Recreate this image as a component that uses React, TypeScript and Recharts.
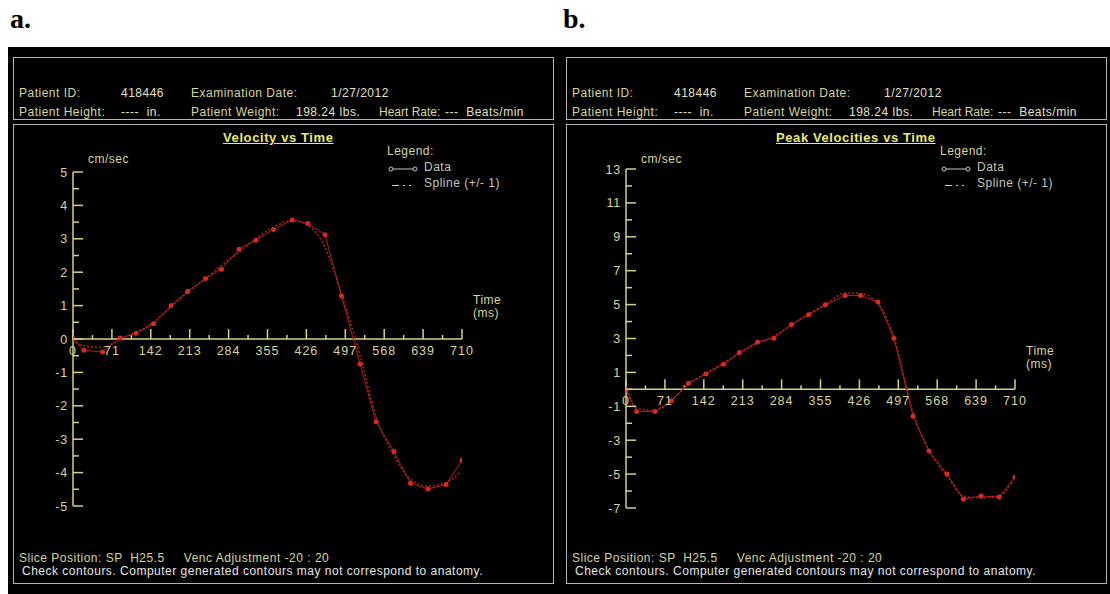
import { Line, LineChart, ReferenceLine, XAxis, YAxis } from "recharts";

// panel a: velocity vs time
const timesA = [0, 20, 54, 86, 115, 147, 179, 209, 242, 271, 303, 334, 366, 400, 429, 460, 490, 524, 553, 586, 616, 648, 681, 710];
const velocityA = [0, -0.34, -0.39, 0.03, 0.17, 0.46, 1.0, 1.42, 1.81, 2.09, 2.69, 2.96, 3.28, 3.56, 3.46, 3.12, 1.29, -0.75, -2.48, -3.37, -4.32, -4.49, -4.36, -3.63];
const splineTimesA = [0, 20, 54, 86, 115, 147, 179, 209, 242, 271, 303, 334, 366, 400, 429, 460, 490, 524, 553, 586, 616, 648, 681, 706];
const splineA = [0, -0.2, -0.25, 0.0, 0.2, 0.5, 0.97, 1.4, 1.8, 2.2, 2.6, 3.0, 3.35, 3.55, 3.4, 2.75, 1.35, -0.5, -2.3, -3.5, -4.2, -4.4, -4.3, -4.0];

// panel b: peak velocities vs time
const timesB = [0, 19.5, 53, 83, 114, 146, 178, 207, 240, 270, 302, 333, 364, 400, 428, 460, 489, 524, 553, 586, 616, 648, 681, 710];
const peakB = [0, -1.3, -1.3, -0.67, 0.36, 0.91, 1.48, 2.17, 2.8, 3.02, 3.83, 4.4, 4.99, 5.54, 5.54, 5.15, 3.02, -1.58, -3.64, -5.0, -6.48, -6.29, -6.35, -5.18];
const splineTimesB = [0, 19.5, 53, 83, 114, 146, 178, 207, 240, 270, 302, 333, 364, 400, 428, 460, 489, 524, 553, 586, 616, 648, 681, 706];
const splineB = [0, -1.1, -1.25, -0.65, 0.3, 0.95, 1.55, 2.15, 2.7, 3.15, 3.8, 4.45, 5.0, 5.68, 5.66, 5.05, 3.1, -1.4, -3.6, -5.1, -6.3, -6.4, -6.3, -5.4];

const xTicks = [0, 35.5, 71, 106.5, 142, 177.5, 213, 248.5, 284, 319.5, 355, 390.5, 426, 461.5, 497, 532.5, 568, 603.5, 639, 674.5, 710];
const xLabels = [0, 71, 142, 213, 284, 355, 426, 497, 568, 639, 710];
const yTicksA = [-5, -4.5, -4, -3.5, -3, -2.5, -2, -1.5, -1, -0.5, 0, 0.5, 1, 1.5, 2, 2.5, 3, 3.5, 4, 4.5, 5];
const yLabelsA = [-5, -4, -3, -2, -1, 0, 1, 2, 3, 4, 5];
const yTicksB = [-7, -6, -5, -4, -3, -2, -1, 0, 1, 2, 3, 4, 5, 6, 7, 8, 9, 10, 11, 12, 13];
const yLabelsB = [-7, -5, -3, -1, 1, 3, 5, 7, 9, 11, 13];

const FONT = "'Liberation Sans', Arial, sans-serif";
const AXIS = "#d2d284";
const LABEL = "#d6d69a";
const VALUE = "#e2e2c8";
const RED = "#b3201a";
const DOT = "#d62a20";
const BOX = "#b4b4b4";

const pts = (ts: number[], vs: number[]) => ts.map((t, i) => ({ t, v: vs[i] }));

function Txt({ x, y, children, color = LABEL, size = 12, bold = false, underline = false, spacing = 0.5 }: any) {
  return (
    <div style={{ position: "absolute", left: x, top: y - 7, lineHeight: "14px", fontSize: size, fontFamily: FONT, color, whiteSpace: "pre", letterSpacing: spacing, fontWeight: bold ? 700 : 400, textDecoration: underline ? "underline" : "none" }}>
      {children}
    </div>
  );
}

function YTick({ x, y, payload, labels }: any) {
  const v = payload.value;
  const major = labels.includes(v);
  return (
    <g>
      <line x1={x + 4} x2={x + 4 + (major ? 10 : 6)} y1={y} y2={y} stroke={AXIS} strokeWidth={1.5} />
      {major && (
        <text x={x - 1} y={y} dy="0.36em" textAnchor="end" fill={LABEL} fontSize={12.5} fontFamily={FONT} letterSpacing={0.8}>{v}</text>
      )}
    </g>
  );
}

type PanelProps = {
  left: number;
  letter: string;
  title: string;
  data: { t: number; v: number }[];
  spline: { t: number; v: number }[];
  yDomain: [number, number];
  yTicks: number[];
  yLabels: number[];
  mTop: number;
  mBottom: number;
  timeY: number;
};

function Panel({ left, letter, title, data, spline, yDomain, yTicks, yLabels, mTop, mBottom, timeY }: PanelProps) {
  const W = 541;
  const H = 460;
  const unit = (yDomain[1] - yDomain[0]) / (H - mTop - mBottom);
  return (
    <>
      <div style={{ position: "absolute", left: left - 3, top: 4, fontFamily: "'Liberation Serif', 'Times New Roman', serif", fontWeight: 700, fontSize: 28, color: "#000", lineHeight: "30px" }}>{letter}</div>
      <div style={{ position: "absolute", left, top: 57, width: W - 2, height: 61, border: `1px solid ${BOX}` }} />
      <Txt x={left + 6} y={93}>Patient ID:</Txt>
      <Txt x={left + 108} y={93} color={VALUE}>418446</Txt>
      <Txt x={left + 178} y={93}>Examination Date:</Txt>
      <Txt x={left + 318} y={93} color={VALUE}>1/27/2012</Txt>
      <Txt x={left + 6} y={112}>Patient Height:</Txt>
      <Txt x={left + 108} y={112} color={VALUE}>----  in.</Txt>
      <Txt x={left + 178} y={112}>Patient Weight:</Txt>
      <Txt x={left + 283} y={112} color={VALUE}>198.24 lbs.</Txt>
      <Txt x={left + 366} y={112} spacing={0}>Heart Rate:</Txt>
      <Txt x={left + 432} y={112} color={VALUE}>---  Beats/min</Txt>

      <div style={{ position: "absolute", left, top: 124, width: W - 2, height: H - 2, border: `1px solid ${BOX}` }} />
      <Txt x={left + 210} y={138} color="#ecec6c" size={13} bold underline spacing={0.6}>{title}</Txt>
      <Txt x={left + 374} y={151}>Legend:</Txt>
      <svg style={{ position: "absolute", left: left + 374, top: 162 }} width={32} height={28}>
        <line x1={4} x2={28} y1={7} y2={7} stroke="#c8c8c8" strokeWidth={1} />
        <circle cx={4} cy={7} r={2} fill="#000" stroke="#c8c8c8" />
        <circle cx={28} cy={7} r={2} fill="#000" stroke="#c8c8c8" />
        <line x1={5} x2={27} y1={23.5} y2={23.5} stroke="#c8c8c8" strokeWidth={1} strokeDasharray="7 4 2 4 2" />
      </svg>
      <Txt x={left + 411} y={167} color="#c4c4c4">Data</Txt>
      <Txt x={left + 411} y={183} color="#c4c4c4">Spline (+/- 1)</Txt>
      <Txt x={left + 75} y={159}>cm/sec</Txt>
      <Txt x={left + 460} y={timeY}>Time</Txt>
      <Txt x={left + 460} y={timeY + 13}>(ms)</Txt>
      <Txt x={left + 6} y={558}>Slice Position: SP  H25.5     Venc Adjustment -20 : 20</Txt>
      <Txt x={left + 9} y={571} color="#e6e6e6">Check contours. Computer generated contours may not correspond to anatomy.</Txt>

      <div style={{ position: "absolute", left, top: 124 }}>
        <LineChart width={W} height={H} margin={{ top: mTop, right: 92, bottom: mBottom, left: 0 }}>
          <XAxis type="number" dataKey="t" domain={[0, 710]} hide allowDataOverflow />
          <YAxis
            type="number"
            domain={yDomain}
            ticks={yTicks}
            interval={0}
            width={60}
            tickSize={0}
            tickMargin={4}
            tickLine={false}
            axisLine={{ stroke: AXIS, strokeWidth: 1.5 }}
            tick={(p: any) => <YTick {...p} labels={yLabels} />}
            allowDataOverflow
          />
          <ReferenceLine segment={[{ x: 0, y: 0 }, { x: 710, y: 0 }]} stroke={AXIS} strokeWidth={1.5} />
          {xTicks.map((t) => {
            const major = xLabels.includes(t);
            const len = (major ? 10 : 4) * unit;
            return (
              <ReferenceLine
                key={t}
                segment={[{ x: t, y: 0 }, { x: t, y: len }]}
                stroke={AXIS}
                strokeWidth={1.5}
                label={major ? { value: String(t), position: "bottom", offset: 7, fill: LABEL, fontSize: 12.5, fontFamily: FONT, letterSpacing: 1 } : undefined}
              />
            );
          })}
          <Line data={spline} dataKey="v" type="monotone" stroke={RED} strokeWidth={1.5} strokeDasharray="2 2" dot={false} isAnimationActive={false} />
          <Line data={data} dataKey="v" type="linear" stroke={RED} strokeWidth={1} dot={{ r: 2.5, fill: DOT, stroke: DOT, strokeWidth: 0 }} isAnimationActive={false} />
        </LineChart>
      </div>
    </>
  );
}

export default function App() {
  return (
    <div style={{ position: "absolute", left: 0, top: 0, width: 1110, height: 594, background: "#fff", overflow: "hidden" }}>
      <div style={{ position: "absolute", left: 8, top: 47, width: 1102, height: 547, background: "#000" }} />
      <Panel
        left={13}
        letter="a."
        title="Velocity vs Time"
        data={pts(timesA, velocityA)}
        spline={pts(splineTimesA, splineA)}
        yDomain={[-5, 5]}
        yTicks={yTicksA}
        yLabels={yLabelsA}
        mTop={48}
        mBottom={78}
        timeY={300}
      />
      <Panel
        left={566}
        letter="b."
        title="Peak Velocities vs Time"
        data={pts(timesB, peakB)}
        spline={pts(splineTimesB, splineB)}
        yDomain={[-7, 13]}
        yTicks={yTicksB}
        yLabels={yLabelsB}
        mTop={45}
        mBottom={76}
        timeY={351}
      />
    </div>
  );
}
